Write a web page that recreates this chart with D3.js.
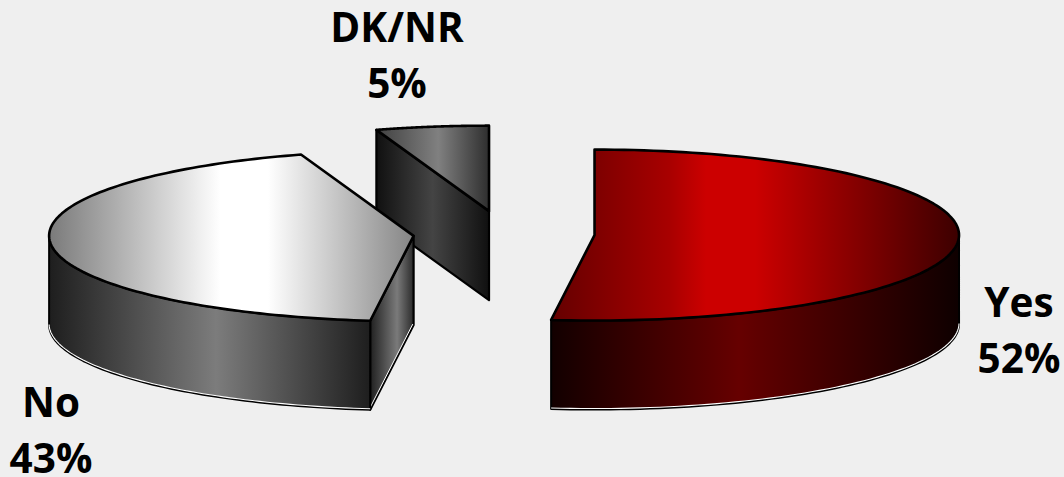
<!DOCTYPE html>
<html>
<head>
<meta charset="utf-8">
<script src="https://cdn.jsdelivr.net/npm/d3@7"></script>
<style>
html,body{margin:0;padding:0;background:#efefef;overflow:hidden}
text{font-family:"Open Sans","Noto Sans",sans-serif;font-weight:700;fill:#000;text-anchor:middle}
</style>
</head>
<body>
<svg id="chart" width="1064" height="477"></svg>
<script>
const categories = ["Yes", "No", "DK/NR"];
const values = [51.9, 43.1, 5];
const labels = ["52%", "43%", "5%"];
const explode = [0.248, 0.25, 0.268];
const labelCentres = [[1019, 317], [51, 417], [397, 42]];
const topStops = [
  [["#640000",0],["#a80000",.29],["#cc0000",.38],["#cc0000",.5],["#3c0000",1]],
  [["#7a7a7a",0],["#ffffff",.47],["#ffffff",.6],["#858585",1]],
  [["#404040",0],["#808080",.55],["#2e2e2e",1]]
];
const sideStops = [
  [["#120000",0],["#660000",.46],["#0e0000",1]],
  [["#1e1e1e",0],["#7c7c7c",.52],["#1e1e1e",1]],
  [null]
];
const cutStops = [
  null,
  [["#202020",0],["#7a7a7a",.62],["#2a2a2a",1]],
  [["#101010",0],["#444444",.5],["#101010",1]]
];

const W = 1064, H = 477, cx = 504.3, cy = 233.8, rx = 364.5, ry = 85.5, depth = 89;
const svg = d3.select("#chart");
const defs = svg.append("defs");
const xS = d3.scaleLinear().domain([-1, 1]).range([cx - rx, cx + rx]);
const yS = d3.scaleLinear().domain([-1, 1]).range([cy - ry, cy + ry]);
const pie = d3.pie().sort(null).startAngle(0).endAngle(2 * Math.PI);
const arcs = pie(values);
const line = d3.line();

function gradient(id, stops, x1, x2) {
  const g = defs.append("linearGradient").attr("id", id)
    .attr("gradientUnits", "userSpaceOnUse")
    .attr("x1", x1).attr("x2", x2).attr("y1", 0).attr("y2", 0);
  stops.forEach(s => g.append("stop").attr("offset", s[1]).attr("stop-color", s[0]));
  return `url(#${id})`;
}

const order = [2, 1, 0];
order.forEach(i => {
  const a = arcs[i];
  const mid = (a.startAngle + a.endAngle) / 2;
  const ox = explode[i] * Math.sin(mid), oy = -explode[i] * Math.cos(mid);
  const P = t => [xS(ox + Math.sin(t)), yS(oy - Math.cos(t))];
  const apex = [xS(ox), yS(oy)];
  const down = p => [p[0], p[1] + depth];
  const N = 120;
  const rim = d3.range(N + 1).map(k => P(a.startAngle + (a.endAngle - a.startAngle) * k / N));
  const g = svg.append("g").attr("class", "slice").attr("data-name", categories[i]);

  // cut face along the slice's first edge
  if (cutStops[i]) {
    const p = P(a.startAngle);
    const face = [apex, p, down(p), down(apex)];
    const xs = [apex[0], p[0]];
    g.append("path")
      .attr("d", line(face) + "Z")
      .attr("fill", gradient("cut" + i, cutStops[i], d3.min(xs), d3.max(xs)))
      .attr("stroke", "#000").attr("stroke-width", 2.2).attr("stroke-linejoin", "round");
    if (i === 1) {
      g.append("path").attr("d", line([down(p), down(apex)]))
        .attr("fill", "none").attr("stroke", "#fff").attr("stroke-width", 1)
        .attr("transform", "translate(-0.8,-0.8)");
    }
  }

  // outer wall (front half of the rim)
  const front = rim.filter((_, k) => {
    const t = a.startAngle + (a.endAngle - a.startAngle) * k / N;
    return t >= Math.PI / 2 && t <= 3 * Math.PI / 2;
  });
  if (front.length > 1 && sideStops[i][0]) {
    const wall = front.concat(front.slice().reverse().map(down));
    const xs = front.map(d => d[0]);
    g.append("path")
      .attr("d", line(wall) + "Z")
      .attr("fill", gradient("side" + i, sideStops[i], d3.min(xs), d3.max(xs)))
      .attr("stroke", "#000").attr("stroke-width", 2).attr("stroke-linejoin", "round");
    g.append("path").attr("d", line(front.map(down)))
      .attr("fill", "none").attr("stroke", "#fff").attr("stroke-width", 1.1)
      .attr("transform", "translate(0,-1)");
  }

  // top face
  const top = [apex].concat(rim);
  const xsTop = top.map(d => d[0]);
  g.append("path")
    .attr("d", line(top) + "Z")
    .attr("fill", gradient("top" + i, topStops[i], d3.min(xsTop), d3.max(xsTop)))
    .attr("stroke", "#000").attr("stroke-width", 2.6).attr("stroke-linejoin", "round");
});

labelCentres.forEach((c, i) => {
  const t = svg.append("text").attr("font-size", 40.5).attr("x", c[0]);
  t.append("tspan").attr("x", c[0]).attr("y", c[1]).text(categories[i]);
  t.append("tspan").attr("x", c[0]).attr("y", c[1] + 56).text(labels[i]);
});
</script>
</body>
</html>
